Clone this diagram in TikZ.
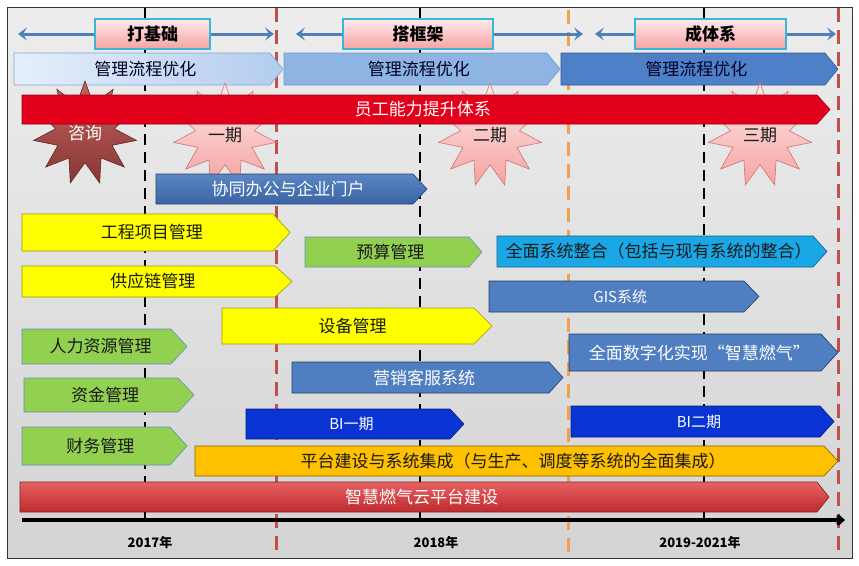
\documentclass[tikz,border=0pt]{standalone}
\usepackage{fontspec}
\setmainfont{Noto Sans CJK SC}
\usetikzlibrary{shapes.geometric,arrows.meta}
\definecolor{mgA}{HTML}{E6EFFB}
\definecolor{mgB}{HTML}{B3CCEE}
\definecolor{mgC}{HTML}{8EB4E3}
\definecolor{mgD}{HTML}{4D80C6}
\definecolor{arrblue}{HTML}{5080B8}
\definecolor{redbar}{HTML}{E2001A}
\definecolor{xtblue}{HTML}{3F70B8}
\definecolor{yel}{HTML}{FFFF00}
\definecolor{grn}{HTML}{92D050}
\definecolor{cyanb}{HTML}{1AA7E6}
\definecolor{gisblue}{HTML}{4F7EC1}
\definecolor{biblue}{HTML}{0A33D4}
\definecolor{org}{HTML}{FFC000}
\definecolor{cloudtop}{HTML}{E66262}
\definecolor{cloudbot}{HTML}{BF2A2E}
\definecolor{redline}{HTML}{C0504D}
\definecolor{orline}{HTML}{F0A050}
\definecolor{pinkA}{HTML}{FFEAEA}
\definecolor{pinkB}{HTML}{F5A3A3}
\definecolor{boxcyan}{HTML}{3DB4DA}
\definecolor{txt}{HTML}{1A1A1A}
\newcommand\chev[9]{%
  \path[#7] (#2,#3) -- ({#4-#6},#3) -- (#4,{(#3+#5)/2}) -- ({#4-#6},#5) -- (#2,#5) -- cycle;
  \node[#8] (#1) at ({(#2+#4-#6/2)/2},{(#3+#5)/2}) {#9};}
\begin{document}
\begin{tikzpicture}[x=1pt,y=-1pt,
  lbl/.style={font=\fontsize{17}{20}\selectfont, text=txt, inner sep=0pt},
  wlbl/.style={lbl, text=white},
  slbl/.style={font=\fontsize{15}{18}\selectfont, text=white, inner sep=0pt},
  mlbl/.style={lbl, text=black!85!blue},
  stage/.style={draw=boxcyan, line width=1.6pt, top color=pinkA, bottom color=pinkB,
    minimum height=30pt, font=\bfseries\fontsize{17}{20}\selectfont, inner sep=0pt},
  toparr/.style={draw=arrblue, line width=3pt, -{Stealth[length=9pt,width=13pt,inset=4pt]}},
  bdash/.style={draw=black, line width=2.5pt, dash pattern=on 11pt off 7pt},
  rdash/.style={draw=redline, line width=3pt, dash pattern=on 14pt off 8pt},
  odash/.style={draw=orline, line width=3pt, dash pattern=on 14pt off 8pt},
  pstar/.style={star, star points=11, star point ratio=1.75, minimum size=104pt,
    top color=pinkA, bottom color=pinkB, draw=redline!80, line width=0.6pt,
    font=\fontsize{17}{20}\selectfont, text=txt, inner sep=0pt},
  dstar/.style={pstar, top color=redline!90, bottom color=redline!70!black, draw=redline!50!black, text=white},
  fmg1/.style={left color=mgA, right color=mgB, draw=mgD!70, line width=0.6pt},
  fmg2/.style={fill=mgC, draw=mgD!80, line width=0.6pt},
  fmg3/.style={fill=mgD, draw=mgD!70!black, line width=0.6pt},
  fred/.style={fill=redbar, draw=redbar!70!black, line width=0.6pt},
  fxt/.style={top color=xtblue!85, bottom color=xtblue!90!black, draw=xtblue!60!black, line width=0.6pt},
  fyel/.style={fill=yel, draw=black!40!yel, line width=0.6pt},
  fgrn/.style={fill=grn, draw=xtblue!80, line width=0.6pt},
  fcyan/.style={fill=cyanb, draw=cyanb!60!black, line width=0.6pt},
  fgis/.style={fill=gisblue, draw=gisblue!50!black, line width=0.6pt},
  fbi/.style={fill=biblue, draw=biblue!60!black, line width=0.6pt},
  forg/.style={fill=org, draw=org!50!black, line width=0.6pt},
  fcloud/.style={top color=cloudtop, bottom color=cloudbot, draw=cloudbot!70!black, line width=0.6pt},
  year/.style={font=\bfseries\fontsize{13}{15}\selectfont, text=black, inner sep=0pt}
]
\useasboundingbox (0,0) rectangle (859,565);
\fill[white] (0,0) rectangle (859,565);
\path[top color=black!7, bottom color=black!17, draw=black!80, line width=1pt] (7,7) rectangle (852,558);

% vertical guide lines
\draw[bdash] (145,8) -- (145,520);
\draw[rdash] (276,8) -- (276,556);
\draw[bdash] (420,8) -- (420,520);
\draw[odash] (568,10) -- (568,558);
\draw[bdash] (704,8) -- (704,520);
\draw[rdash] (838,8) -- (838,556);

% stage boxes and arrows
\coordinate (a1l) at (18,34);  \coordinate (a1r) at (274,34);
\coordinate (a2l) at (296,34); \coordinate (a2r) at (583,34);
\coordinate (a3l) at (595,34); \coordinate (a3r) at (836,34);
\node[stage, minimum width=115pt] (s1) at (152.5,34) {打基础};
\node[stage, minimum width=150pt] (s2) at (418,34) {搭框架};
\node[stage, minimum width=151pt] (s3) at (710.5,34) {成体系};
\draw[toparr] (s1.west) -- (a1l);
\draw[toparr] (s1.east) -- (a1r);
\draw[toparr] (s2.west) -- (a2l);
\draw[toparr] (s2.east) -- (a2r);
\draw[toparr] (s3.west) -- (a3l);
\draw[toparr] (s3.east) -- (a3r);

% management process chevrons
\chev{mg1}{14}{53}{283}{85}{13}{fmg1}{mlbl}{管理流程优化}
\chev{mg2}{284}{53}{560}{85}{13}{fmg2}{mlbl}{管理流程优化}
\chev{mg3}{561}{53}{838}{85}{13}{fmg3}{mlbl}{管理流程优化}

% stars
\node[dstar] (st1) at (85,133) {咨询};
\node[pstar] (st2) at (225,135) {一期};
\node[pstar] (st3) at (490,135) {二期};
\node[pstar] (st4) at (760,135) {三期};

% staff capability bar
\chev{staff}{22}{95}{830}{124}{13}{fred}{wlbl}{员工能力提升体系}

\chev{xt}{156}{174}{427}{204}{14}{fxt}{wlbl}{协同办公与企业门户}
\chev{gc}{22}{214}{290}{251}{17}{fyel}{lbl}{工程项目管理}
\chev{ys}{305}{237}{482}{267}{13}{fgrn}{lbl}{预算管理}
\chev{qm}{497}{236}{827}{267}{14}{fcyan}{lbl}{全面系统整合（包括与现有系统的整合）}
\chev{gy}{22}{266}{292}{297}{17}{fyel}{lbl}{供应链管理}
\chev{gis}{489}{281}{759}{312}{15}{fgis}{slbl}{GIS系统}
\chev{sb}{222}{308}{492}{344}{18}{fyel}{lbl}{设备管理}
\chev{rl}{22}{329}{187}{364}{16}{fgrn}{lbl}{人力资源管理}
\chev{sz}{569}{334}{838}{371}{17}{fgis}{wlbl}{全面数字化实现“智慧燃气”}
\chev{yx}{292}{362}{563}{393}{14}{fgis}{wlbl}{营销客服系统}
\chev{zj}{24}{378}{194}{412}{16}{fgrn}{lbl}{资金管理}
\chev{bi1}{246}{409}{464}{439}{14}{fbi}{slbl}{BI一期}
\chev{bi2}{571}{406}{834}{437}{14}{fbi}{slbl}{BI二期}
\chev{cw}{22}{427}{187}{465}{17}{fgrn}{lbl}{财务管理}
\chev{pt}{195}{446}{838}{476}{14}{forg}{lbl}{平台建设与系统集成（与生产、调度等系统的全面集成）}
\chev{yun}{20}{482}{829}{512}{12}{fcloud}{wlbl}{智慧燃气云平台建设}

% time axis
\coordinate (ax0) at (22,520);
\coordinate (ax1) at (845,520);
\draw[line width=3.5pt, -{Straight Barb[length=5pt,width=9pt]}] (ax0) -- (ax1);
\draw[line width=2.5pt] (145,512) -- (145,520);
\draw[line width=2.5pt] (704,512) -- (704,520);
\node[year] (y1) at (150,543) {2017年};
\node[year] (y2) at (436,543) {2018年};
\node[year] (y3) at (700,543) {2019-2021年};
\end{tikzpicture}
\end{document}
